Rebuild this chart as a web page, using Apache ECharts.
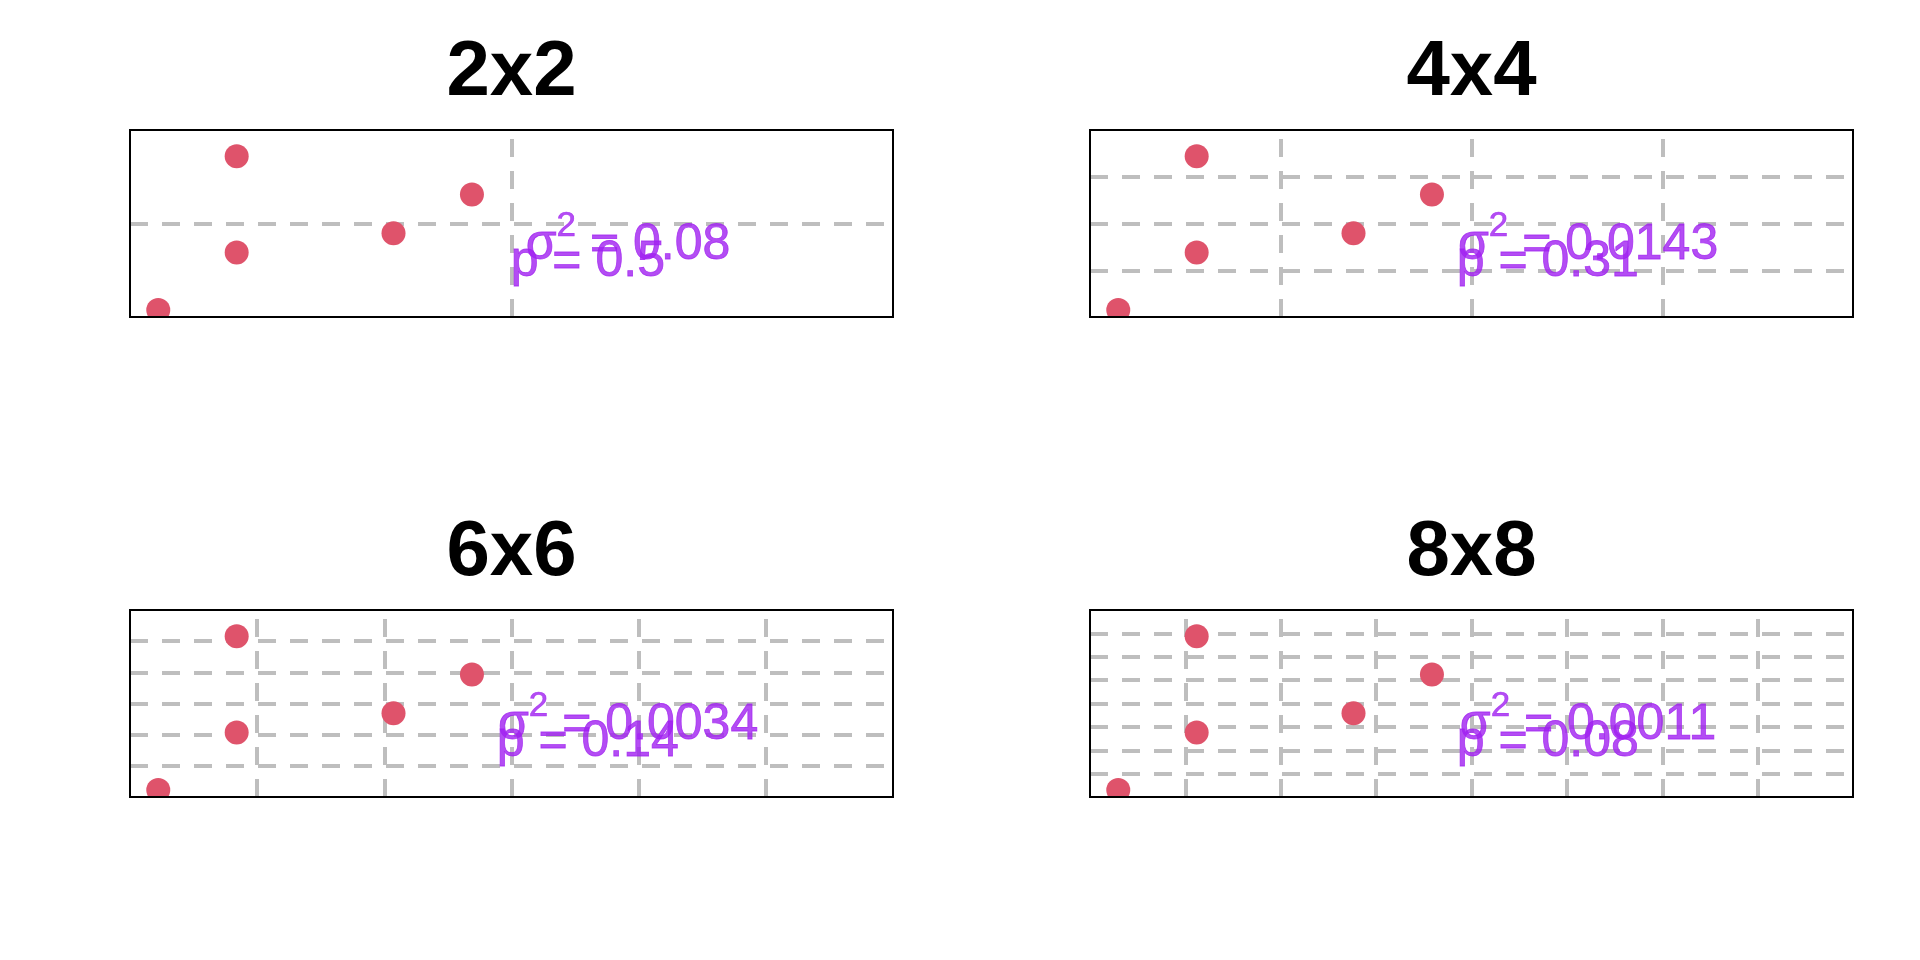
<!DOCTYPE html>
<html><head><meta charset="utf-8">
<script src="https://cdn.jsdelivr.net/npm/echarts@6/dist/echarts.min.js"></script>
<style>html,body{margin:0;padding:0;background:#fff}#c{width:1920px;height:960px}</style>
</head><body><div id="c"></div>
<script>
// ---- data ----
const panelTitles = ['2x2', '4x4', '6x6', '8x8'];
const gridDivisions = [2, 4, 6, 8];
const pointX = [0, 0.111, 0.111, 0.333, 0.444];
const pointY = [0, 0.889, 0.333, 0.444, 0.667];
const sigma2Values = ['0.08', '0.0143', '0.0034', '0.0011'];
const pValues = ['0.5', '0.31', '0.14', '0.08'];
const sigmaLabelAt = [0.665, 0.374];
const pLabelAt = [0.608, 0.274];

// ---- layout / style ----
const FONT = '"Liberation Sans", Arial, Helvetica, sans-serif';
const panelLeft = [130, 1090, 130, 1090];
const panelTop = [130, 130, 610, 610];
const PW = 763, PH = 187;
const PURPLE = '#A020F0';
const GRIDCOL = '#BEBEBE';

const grids = [], xAxes = [], yAxes = [], series = [], titles = [], masks = [];
for (let g = 0; g < 4; g++) {
  const n = gridDivisions[g];
  grids.push({ left: panelLeft[g], top: panelTop[g], width: PW, height: PH, show: true, z: 5,
    borderColor: '#000', borderWidth: 2, backgroundColor: 'transparent', containLabel: false });
  titles.push({ text: panelTitles[g], left: panelLeft[g] + PW / 2, top: panelTop[g] - 96, textAlign: 'center',
    padding: 0, textStyle: { fontSize: 78, fontWeight: 'bold', color: '#000', fontFamily: FONT } });
  // white mask below the plot box so marks are clipped to the plot region
  masks.push({ type: 'rect', z: 4, silent: true,
    shape: { x: panelLeft[g] - 20, y: panelTop[g] + PH + 1, width: PW + 40, height: 20 },
    style: { fill: '#fff' } });
  const hidden = { axisLine: { show: false }, axisTick: { show: false }, axisLabel: { show: false }, splitLine: { show: false } };
  xAxes.push(Object.assign({ gridIndex: g, type: 'value', min: -0.04, max: 1.04 }, hidden));
  xAxes.push({ gridIndex: g, type: 'value', min: 0, max: n, interval: 1, position: 'top',
    axisLine: { show: false }, axisTick: { show: false }, axisLabel: { show: false },
    splitLine: { show: true, showMinLine: false, showMaxLine: false,
      lineStyle: { color: GRIDCOL, width: 4, type: [18, 14], dashOffset: 23 } } });
  yAxes.push(Object.assign({ gridIndex: g, type: 'value', min: -0.04, max: 1.04 }, hidden));
  yAxes.push({ gridIndex: g, type: 'value', min: 0, max: n, interval: 1, position: 'right',
    axisLine: { show: false }, axisTick: { show: false }, axisLabel: { show: false },
    splitLine: { show: true, showMinLine: false, showMaxLine: false,
      lineStyle: { color: GRIDCOL, width: 4, type: [18, 14], dashOffset: 0 } } });
  series.push({ type: 'scatter', xAxisIndex: 2 * g, yAxisIndex: 2 * g, silent: true,
    symbolSize: 24, itemStyle: { color: '#DF536B', opacity: 1 },
    data: pointX.map((x, i) => [x, pointY[i]]), z: 3 });
  series.push({ type: 'scatter', xAxisIndex: 2 * g, yAxisIndex: 2 * g, silent: true,
    symbolSize: 0, z: 3,
    label: { show: true, position: 'inside', align: 'center', verticalAlign: 'middle',
      color: PURPLE, fontFamily: FONT, fontSize: 50, textBorderColor: PURPLE, textBorderWidth: 0.8 },
    data: [
      { value: sigmaLabelAt, label: {
          formatter: '{s|σ}{b|2}{s| = ' + sigma2Values[g] + '}',
          rich: {
            s: { fontSize: 50, lineHeight: 50, color: PURPLE, fontFamily: FONT, verticalAlign: 'middle',
                 textBorderColor: PURPLE, textBorderWidth: 0.8 },
            b: { fontSize: 35, lineHeight: 35, color: PURPLE, fontFamily: FONT, verticalAlign: 'middle',
                 padding: [0, 0, 38, 0], textBorderColor: PURPLE, textBorderWidth: 0.6 }
          } } },
      { value: pLabelAt, label: { formatter: 'p = ' + pValues[g] } }
    ] });
}

const chart = echarts.init(document.getElementById('c'), null, { renderer: 'canvas' });
chart.setOption({ animation: false, backgroundColor: '#fff', title: titles, grid: grids,
  xAxis: xAxes, yAxis: yAxes, series: series, graphic: masks, tooltip: { show: false } });
</script></body></html>
